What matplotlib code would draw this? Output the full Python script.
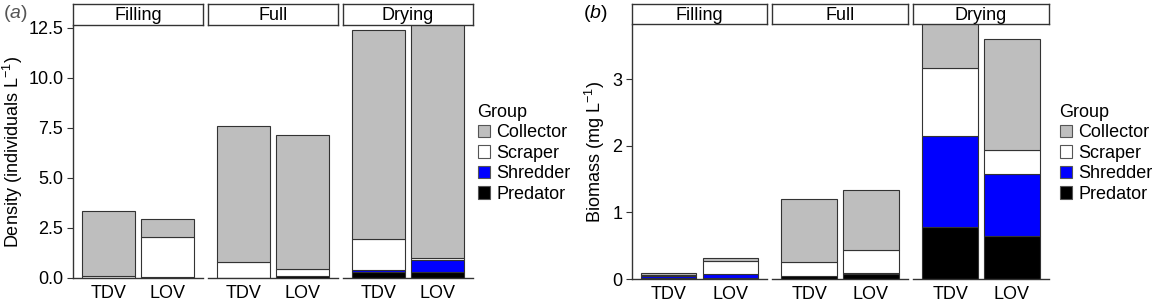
import numpy as np
import matplotlib.pyplot as plt
from matplotlib.patches import Patch

plt.rcParams["font.family"] = ["Liberation Sans", "DejaVu Sans"]
plt.rcParams["mathtext.fontset"] = "custom"
plt.rcParams["mathtext.rm"] = "Liberation Sans"
plt.rcParams["mathtext.it"] = "Liberation Sans:italic"

# =============================
# Data (order: Filling TDV, Filling LOV, Full TDV, Full LOV, Drying TDV, Drying LOV)
# =============================
stages = ["Filling", "Full", "Drying"]
sites = ["TDV", "LOV"]
groups = ["Collector", "Scraper", "Shredder", "Predator"]
group_colors = ["#BEBEBE", "#FFFFFF", "#0000FF", "#000000"]

density_predator = [0.02, 0.05, 0.01, 0.08, 0.28, 0.30]
density_shredder = [0.00, 0.01, 0.00, 0.00, 0.10, 0.60]
density_scraper = [0.07, 1.97, 0.81, 0.35, 1.55, 0.12]
density_collector = [3.24, 0.90, 6.76, 6.70, 10.47, 12.5]

biomass_predator = [0.01, 0.02, 0.05, 0.075, 0.775, 0.64]
biomass_shredder = [0.03, 0.06, 0.00, 0.015, 1.365, 0.935]
biomass_scraper = [0.02, 0.185, 0.205, 0.34, 1.02, 0.365]
biomass_collector = [0.03, 0.05, 0.945, 0.91, 0.84, 1.66]

W, H = 1157, 307
EDGE = "#333333"
FS = 13


def px_rect(x0, x1, y0, y1):
    return [x0 / W, 1 - y1 / H, (x1 - x0) / W, (y1 - y0) / H]


def draw_panel(fig, facet_x, y_top, y_bot, layers, ylim, yticks, yticklabels):
    # layers: list of (values, color) from bottom to top
    axes = []
    for i, (x0, x1) in enumerate(facet_x):
        ax = fig.add_axes(px_rect(x0, x1, y_top, y_bot))
        xs = np.arange(len(sites))
        bottom = np.zeros(len(sites))
        for vals, col in layers:
            v = np.array(vals[2 * i:2 * i + 2])
            ax.bar(xs, v, width=0.9, bottom=bottom, color=col,
                   edgecolor=EDGE, linewidth=0.8)
            bottom += v
        ax.set_xlim(-0.6, 1.6)
        ax.set_ylim(*ylim)
        ax.set_xticks(xs)
        ax.set_xticklabels(sites, fontsize=FS)
        ax.tick_params(axis="x", length=0, pad=5)
        for s in ["top", "right"]:
            ax.spines[s].set_visible(False)
        ax.spines["bottom"].set_color(EDGE)
        ax.spines["bottom"].set_linewidth(1.0)
        if i == 0:
            ax.set_yticks(yticks)
            ax.set_yticklabels(yticklabels, fontsize=FS)
            ax.tick_params(axis="y", length=4, color=EDGE, pad=3)
            ax.spines["left"].set_color(EDGE)
            ax.spines["left"].set_linewidth(1.0)
        else:
            ax.spines["left"].set_visible(False)
            ax.set_yticks([])

        # facet strip
        sax = fig.add_axes(px_rect(x0, x1, 4, y_top - 1))
        sax.set_xticks([])
        sax.set_yticks([])
        for s in sax.spines.values():
            s.set_color(EDGE)
            s.set_linewidth(1.0)
        sax.text(0.5, 0.45, stages[i], ha="center", va="center", fontsize=FS,
                 transform=sax.transAxes)
        axes.append(ax)
    return axes


fig = plt.figure(figsize=(W / 100, H / 100), dpi=100)

# Panel (a): density
draw_panel(
    fig,
    [(73, 203), (208, 338), (343, 473)],
    26, 278,
    [(density_predator, group_colors[3]), (density_shredder, group_colors[2]),
     (density_scraper, group_colors[1]), (density_collector, group_colors[0])],
    (0, 12.6),
    [0, 2.5, 5.0, 7.5, 10.0, 12.5],
    ["0.0", "2.5", "5.0", "7.5", "10.0", "12.5"],
)

# Panel (b): biomass
draw_panel(
    fig,
    [(632, 767), (772, 908), (913, 1049)],
    25, 279,
    [(biomass_predator, group_colors[3]), (biomass_shredder, group_colors[2]),
     (biomass_scraper, group_colors[1]), (biomass_collector, group_colors[0])],
    (0, 3.81),
    [0, 1, 2, 3],
    ["0", "1", "2", "3"],
)

fig.text(13 / W, 1 - 152 / H, r"Density (individuals L$^{-1}$)", rotation=90,
         ha="center", va="center", fontsize=FS)
fig.text(595 / W, 1 - 152 / H, r"Biomass (mg L$^{-1}$)", rotation=90,
         ha="center", va="center", fontsize=FS)

fig.text(3 / W, 1 - 14 / H, r"($\mathit{a}$)", ha="left", va="center",
         fontsize=14, color="#555555")
fig.text(583 / W, 1 - 14 / H, r"($\mathit{b}$)", ha="left", va="center",
         fontsize=14, color="black")

handles = [Patch(facecolor=c, edgecolor="#555555", linewidth=0.8, label=g)
           for g, c in zip(groups, group_colors)]
for lx in [474, 1056]:
    fig.legend(handles=handles, title="Group", loc="upper left",
               bbox_to_anchor=(lx / W, 1 - 100 / H), frameon=False,
               fontsize=FS, title_fontsize=FS, handlelength=0.7,
               handleheight=0.7, handletextpad=0.35, labelspacing=0.2,
               alignment="left", borderpad=0.2, borderaxespad=0)

fig.savefig("out.png", dpi=100)
